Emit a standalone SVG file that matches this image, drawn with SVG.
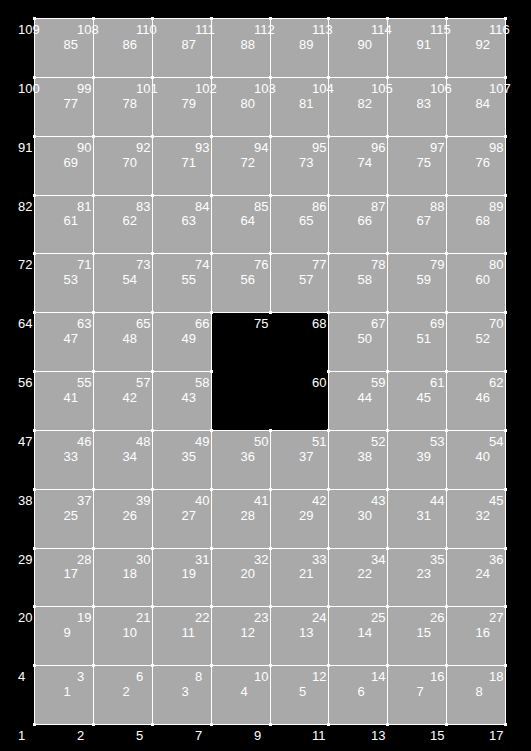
<svg xmlns="http://www.w3.org/2000/svg" xmlns:xlink="http://www.w3.org/1999/xlink" width="531" height="751" viewBox="0 0 531 751">
<style>
.e rect{fill:#a9a9a9}
text{fill:#fff;font-family:"Liberation Sans",Arial,sans-serif;font-size:13px}
.g{stroke:#fff;stroke-width:1;fill:none;shape-rendering:crispEdges}
.mk{fill:#fff;shape-rendering:crispEdges}
</style>
<defs><rect id="m" class="mk" width="3" height="3"/></defs>
<rect width="531" height="751" fill="#000"/>
<g id="elements" class="e">
<g id="e85"><rect x="34" y="18" width="60" height="60"/><text x="63.5" y="48.5">85</text></g>
<g id="e86"><rect x="93" y="18" width="60" height="60"/><text x="122.5" y="48.5">86</text></g>
<g id="e87"><rect x="152" y="18" width="60" height="60"/><text x="181.5" y="48.5">87</text></g>
<g id="e88"><rect x="211" y="18" width="60" height="60"/><text x="240.5" y="48.5">88</text></g>
<g id="e89"><rect x="270" y="18" width="59" height="60"/><text x="299" y="48.5">89</text></g>
<g id="e90"><rect x="328" y="18" width="60" height="60"/><text x="357.5" y="48.5">90</text></g>
<g id="e91"><rect x="387" y="18" width="60" height="60"/><text x="416.5" y="48.5">91</text></g>
<g id="e92"><rect x="446" y="18" width="60" height="60"/><text x="475.5" y="48.5">92</text></g>

<g id="e77"><rect x="34" y="77" width="60" height="60"/><text x="63.5" y="107.5">77</text></g>
<g id="e78"><rect x="93" y="77" width="60" height="60"/><text x="122.5" y="107.5">78</text></g>
<g id="e79"><rect x="152" y="77" width="60" height="60"/><text x="181.5" y="107.5">79</text></g>
<g id="e80"><rect x="211" y="77" width="60" height="60"/><text x="240.5" y="107.5">80</text></g>
<g id="e81"><rect x="270" y="77" width="59" height="60"/><text x="299" y="107.5">81</text></g>
<g id="e82"><rect x="328" y="77" width="60" height="60"/><text x="357.5" y="107.5">82</text></g>
<g id="e83"><rect x="387" y="77" width="60" height="60"/><text x="416.5" y="107.5">83</text></g>
<g id="e84"><rect x="446" y="77" width="60" height="60"/><text x="475.5" y="107.5">84</text></g>

<g id="e69"><rect x="34" y="136" width="60" height="60"/><text x="63.5" y="166.5">69</text></g>
<g id="e70"><rect x="93" y="136" width="60" height="60"/><text x="122.5" y="166.5">70</text></g>
<g id="e71"><rect x="152" y="136" width="60" height="60"/><text x="181.5" y="166.5">71</text></g>
<g id="e72"><rect x="211" y="136" width="60" height="60"/><text x="240.5" y="166.5">72</text></g>
<g id="e73"><rect x="270" y="136" width="59" height="60"/><text x="299" y="166.5">73</text></g>
<g id="e74"><rect x="328" y="136" width="60" height="60"/><text x="357.5" y="166.5">74</text></g>
<g id="e75"><rect x="387" y="136" width="60" height="60"/><text x="416.5" y="166.5">75</text></g>
<g id="e76"><rect x="446" y="136" width="60" height="60"/><text x="475.5" y="166.5">76</text></g>

<g id="e61"><rect x="34" y="195" width="60" height="59"/><text x="63.5" y="225">61</text></g>
<g id="e62"><rect x="93" y="195" width="60" height="59"/><text x="122.5" y="225">62</text></g>
<g id="e63"><rect x="152" y="195" width="60" height="59"/><text x="181.5" y="225">63</text></g>
<g id="e64"><rect x="211" y="195" width="60" height="59"/><text x="240.5" y="225">64</text></g>
<g id="e65"><rect x="270" y="195" width="59" height="59"/><text x="299" y="225">65</text></g>
<g id="e66"><rect x="328" y="195" width="60" height="59"/><text x="357.5" y="225">66</text></g>
<g id="e67"><rect x="387" y="195" width="60" height="59"/><text x="416.5" y="225">67</text></g>
<g id="e68"><rect x="446" y="195" width="60" height="59"/><text x="475.5" y="225">68</text></g>

<g id="e53"><rect x="34" y="253" width="60" height="60"/><text x="63.5" y="283.5">53</text></g>
<g id="e54"><rect x="93" y="253" width="60" height="60"/><text x="122.5" y="283.5">54</text></g>
<g id="e55"><rect x="152" y="253" width="60" height="60"/><text x="181.5" y="283.5">55</text></g>
<g id="e56"><rect x="211" y="253" width="60" height="60"/><text x="240.5" y="283.5">56</text></g>
<g id="e57"><rect x="270" y="253" width="59" height="60"/><text x="299" y="283.5">57</text></g>
<g id="e58"><rect x="328" y="253" width="60" height="60"/><text x="357.5" y="283.5">58</text></g>
<g id="e59"><rect x="387" y="253" width="60" height="60"/><text x="416.5" y="283.5">59</text></g>
<g id="e60"><rect x="446" y="253" width="60" height="60"/><text x="475.5" y="283.5">60</text></g>

<g id="e47"><rect x="34" y="312" width="60" height="60"/><text x="63.5" y="342.5">47</text></g>
<g id="e48"><rect x="93" y="312" width="60" height="60"/><text x="122.5" y="342.5">48</text></g>
<g id="e49"><rect x="152" y="312" width="60" height="60"/><text x="181.5" y="342.5">49</text></g>
<g id="e50"><rect x="328" y="312" width="60" height="60"/><text x="357.5" y="342.5">50</text></g>
<g id="e51"><rect x="387" y="312" width="60" height="60"/><text x="416.5" y="342.5">51</text></g>
<g id="e52"><rect x="446" y="312" width="60" height="60"/><text x="475.5" y="342.5">52</text></g>

<g id="e41"><rect x="34" y="371" width="60" height="60"/><text x="63.5" y="401.5">41</text></g>
<g id="e42"><rect x="93" y="371" width="60" height="60"/><text x="122.5" y="401.5">42</text></g>
<g id="e43"><rect x="152" y="371" width="60" height="60"/><text x="181.5" y="401.5">43</text></g>
<g id="e44"><rect x="328" y="371" width="60" height="60"/><text x="357.5" y="401.5">44</text></g>
<g id="e45"><rect x="387" y="371" width="60" height="60"/><text x="416.5" y="401.5">45</text></g>
<g id="e46"><rect x="446" y="371" width="60" height="60"/><text x="475.5" y="401.5">46</text></g>

<g id="e33"><rect x="34" y="430" width="60" height="60"/><text x="63.5" y="460.5">33</text></g>
<g id="e34"><rect x="93" y="430" width="60" height="60"/><text x="122.5" y="460.5">34</text></g>
<g id="e35"><rect x="152" y="430" width="60" height="60"/><text x="181.5" y="460.5">35</text></g>
<g id="e36"><rect x="211" y="430" width="60" height="60"/><text x="240.5" y="460.5">36</text></g>
<g id="e37"><rect x="270" y="430" width="59" height="60"/><text x="299" y="460.5">37</text></g>
<g id="e38"><rect x="328" y="430" width="60" height="60"/><text x="357.5" y="460.5">38</text></g>
<g id="e39"><rect x="387" y="430" width="60" height="60"/><text x="416.5" y="460.5">39</text></g>
<g id="e40"><rect x="446" y="430" width="60" height="60"/><text x="475.5" y="460.5">40</text></g>

<g id="e25"><rect x="34" y="489" width="60" height="60"/><text x="63.5" y="519.5">25</text></g>
<g id="e26"><rect x="93" y="489" width="60" height="60"/><text x="122.5" y="519.5">26</text></g>
<g id="e27"><rect x="152" y="489" width="60" height="60"/><text x="181.5" y="519.5">27</text></g>
<g id="e28"><rect x="211" y="489" width="60" height="60"/><text x="240.5" y="519.5">28</text></g>
<g id="e29"><rect x="270" y="489" width="59" height="60"/><text x="299" y="519.5">29</text></g>
<g id="e30"><rect x="328" y="489" width="60" height="60"/><text x="357.5" y="519.5">30</text></g>
<g id="e31"><rect x="387" y="489" width="60" height="60"/><text x="416.5" y="519.5">31</text></g>
<g id="e32"><rect x="446" y="489" width="60" height="60"/><text x="475.5" y="519.5">32</text></g>

<g id="e17"><rect x="34" y="548" width="60" height="59"/><text x="63.5" y="578">17</text></g>
<g id="e18"><rect x="93" y="548" width="60" height="59"/><text x="122.5" y="578">18</text></g>
<g id="e19"><rect x="152" y="548" width="60" height="59"/><text x="181.5" y="578">19</text></g>
<g id="e20"><rect x="211" y="548" width="60" height="59"/><text x="240.5" y="578">20</text></g>
<g id="e21"><rect x="270" y="548" width="59" height="59"/><text x="299" y="578">21</text></g>
<g id="e22"><rect x="328" y="548" width="60" height="59"/><text x="357.5" y="578">22</text></g>
<g id="e23"><rect x="387" y="548" width="60" height="59"/><text x="416.5" y="578">23</text></g>
<g id="e24"><rect x="446" y="548" width="60" height="59"/><text x="475.5" y="578">24</text></g>

<g id="e9"><rect x="34" y="606" width="60" height="60"/><text x="63.5" y="636.5">9</text></g>
<g id="e10"><rect x="93" y="606" width="60" height="60"/><text x="122.5" y="636.5">10</text></g>
<g id="e11"><rect x="152" y="606" width="60" height="60"/><text x="181.5" y="636.5">11</text></g>
<g id="e12"><rect x="211" y="606" width="60" height="60"/><text x="240.5" y="636.5">12</text></g>
<g id="e13"><rect x="270" y="606" width="59" height="60"/><text x="299" y="636.5">13</text></g>
<g id="e14"><rect x="328" y="606" width="60" height="60"/><text x="357.5" y="636.5">14</text></g>
<g id="e15"><rect x="387" y="606" width="60" height="60"/><text x="416.5" y="636.5">15</text></g>
<g id="e16"><rect x="446" y="606" width="60" height="60"/><text x="475.5" y="636.5">16</text></g>

<g id="e1"><rect x="34" y="665" width="60" height="60"/><text x="63.5" y="695.5">1</text></g>
<g id="e2"><rect x="93" y="665" width="60" height="60"/><text x="122.5" y="695.5">2</text></g>
<g id="e3"><rect x="152" y="665" width="60" height="60"/><text x="181.5" y="695.5">3</text></g>
<g id="e4"><rect x="211" y="665" width="60" height="60"/><text x="240.5" y="695.5">4</text></g>
<g id="e5"><rect x="270" y="665" width="59" height="60"/><text x="299" y="695.5">5</text></g>
<g id="e6"><rect x="328" y="665" width="60" height="60"/><text x="357.5" y="695.5">6</text></g>
<g id="e7"><rect x="387" y="665" width="60" height="60"/><text x="416.5" y="695.5">7</text></g>
<g id="e8"><rect x="446" y="665" width="60" height="60"/><text x="475.5" y="695.5">8</text></g>
</g>
<g id="nodes">
<g id="n109"><use href="#m" x="33" y="17"/><text x="18" y="34">109</text></g>
<g id="n108"><use href="#m" x="92" y="17"/><text x="77" y="34">108</text></g>
<g id="n110"><use href="#m" x="151" y="17"/><text x="136" y="34">110</text></g>
<g id="n111"><use href="#m" x="210" y="17"/><text x="195" y="34">111</text></g>
<g id="n112"><use href="#m" x="269" y="17"/><text x="254" y="34">112</text></g>
<g id="n113"><use href="#m" x="327" y="17"/><text x="312" y="34">113</text></g>
<g id="n114"><use href="#m" x="386" y="17"/><text x="371" y="34">114</text></g>
<g id="n115"><use href="#m" x="445" y="17"/><text x="430" y="34">115</text></g>
<g id="n116"><use href="#m" x="504" y="17"/><text x="489" y="34">116</text></g>

<g id="n100"><use href="#m" x="33" y="76"/><text x="18" y="93">100</text></g>
<g id="n99"><use href="#m" x="92" y="76"/><text x="77" y="93">99</text></g>
<g id="n101"><use href="#m" x="151" y="76"/><text x="136" y="93">101</text></g>
<g id="n102"><use href="#m" x="210" y="76"/><text x="195" y="93">102</text></g>
<g id="n103"><use href="#m" x="269" y="76"/><text x="254" y="93">103</text></g>
<g id="n104"><use href="#m" x="327" y="76"/><text x="312" y="93">104</text></g>
<g id="n105"><use href="#m" x="386" y="76"/><text x="371" y="93">105</text></g>
<g id="n106"><use href="#m" x="445" y="76"/><text x="430" y="93">106</text></g>
<g id="n107"><use href="#m" x="504" y="76"/><text x="489" y="93">107</text></g>

<g id="n91"><use href="#m" x="33" y="135"/><text x="18" y="152">91</text></g>
<g id="n90"><use href="#m" x="92" y="135"/><text x="77" y="152">90</text></g>
<g id="n92"><use href="#m" x="151" y="135"/><text x="136" y="152">92</text></g>
<g id="n93"><use href="#m" x="210" y="135"/><text x="195" y="152">93</text></g>
<g id="n94"><use href="#m" x="269" y="135"/><text x="254" y="152">94</text></g>
<g id="n95"><use href="#m" x="327" y="135"/><text x="312" y="152">95</text></g>
<g id="n96"><use href="#m" x="386" y="135"/><text x="371" y="152">96</text></g>
<g id="n97"><use href="#m" x="445" y="135"/><text x="430" y="152">97</text></g>
<g id="n98"><use href="#m" x="504" y="135"/><text x="489" y="152">98</text></g>

<g id="n82"><use href="#m" x="33" y="194"/><text x="18" y="211">82</text></g>
<g id="n81"><use href="#m" x="92" y="194"/><text x="77" y="211">81</text></g>
<g id="n83"><use href="#m" x="151" y="194"/><text x="136" y="211">83</text></g>
<g id="n84"><use href="#m" x="210" y="194"/><text x="195" y="211">84</text></g>
<g id="n85"><use href="#m" x="269" y="194"/><text x="254" y="211">85</text></g>
<g id="n86"><use href="#m" x="327" y="194"/><text x="312" y="211">86</text></g>
<g id="n87"><use href="#m" x="386" y="194"/><text x="371" y="211">87</text></g>
<g id="n88"><use href="#m" x="445" y="194"/><text x="430" y="211">88</text></g>
<g id="n89"><use href="#m" x="504" y="194"/><text x="489" y="211">89</text></g>

<g id="n72"><use href="#m" x="33" y="252"/><text x="18" y="269">72</text></g>
<g id="n71"><use href="#m" x="92" y="252"/><text x="77" y="269">71</text></g>
<g id="n73"><use href="#m" x="151" y="252"/><text x="136" y="269">73</text></g>
<g id="n74"><use href="#m" x="210" y="252"/><text x="195" y="269">74</text></g>
<g id="n76"><use href="#m" x="269" y="252"/><text x="254" y="269">76</text></g>
<g id="n77"><use href="#m" x="327" y="252"/><text x="312" y="269">77</text></g>
<g id="n78"><use href="#m" x="386" y="252"/><text x="371" y="269">78</text></g>
<g id="n79"><use href="#m" x="445" y="252"/><text x="430" y="269">79</text></g>
<g id="n80"><use href="#m" x="504" y="252"/><text x="489" y="269">80</text></g>

<g id="n64"><use href="#m" x="33" y="311"/><text x="18" y="328">64</text></g>
<g id="n63"><use href="#m" x="92" y="311"/><text x="77" y="328">63</text></g>
<g id="n65"><use href="#m" x="151" y="311"/><text x="136" y="328">65</text></g>
<g id="n66"><use href="#m" x="210" y="311"/><text x="195" y="328">66</text></g>
<g id="n75"><use href="#m" x="269" y="311"/><text x="254" y="328">75</text></g>
<g id="n68"><use href="#m" x="327" y="311"/><text x="312" y="328">68</text></g>
<g id="n67"><use href="#m" x="386" y="311"/><text x="371" y="328">67</text></g>
<g id="n69"><use href="#m" x="445" y="311"/><text x="430" y="328">69</text></g>
<g id="n70"><use href="#m" x="504" y="311"/><text x="489" y="328">70</text></g>

<g id="n56"><use href="#m" x="33" y="370"/><text x="18" y="387">56</text></g>
<g id="n55"><use href="#m" x="92" y="370"/><text x="77" y="387">55</text></g>
<g id="n57"><use href="#m" x="151" y="370"/><text x="136" y="387">57</text></g>
<g id="n58"><use href="#m" x="210" y="370"/><text x="195" y="387">58</text></g>
<g id="n60"><use href="#m" x="327" y="370"/><text x="312" y="387">60</text></g>
<g id="n59"><use href="#m" x="386" y="370"/><text x="371" y="387">59</text></g>
<g id="n61"><use href="#m" x="445" y="370"/><text x="430" y="387">61</text></g>
<g id="n62"><use href="#m" x="504" y="370"/><text x="489" y="387">62</text></g>

<g id="n47"><use href="#m" x="33" y="429"/><text x="18" y="446">47</text></g>
<g id="n46"><use href="#m" x="92" y="429"/><text x="77" y="446">46</text></g>
<g id="n48"><use href="#m" x="151" y="429"/><text x="136" y="446">48</text></g>
<g id="n49"><use href="#m" x="210" y="429"/><text x="195" y="446">49</text></g>
<g id="n50"><use href="#m" x="269" y="429"/><text x="254" y="446">50</text></g>
<g id="n51"><use href="#m" x="327" y="429"/><text x="312" y="446">51</text></g>
<g id="n52"><use href="#m" x="386" y="429"/><text x="371" y="446">52</text></g>
<g id="n53"><use href="#m" x="445" y="429"/><text x="430" y="446">53</text></g>
<g id="n54"><use href="#m" x="504" y="429"/><text x="489" y="446">54</text></g>

<g id="n38"><use href="#m" x="33" y="488"/><text x="18" y="505">38</text></g>
<g id="n37"><use href="#m" x="92" y="488"/><text x="77" y="505">37</text></g>
<g id="n39"><use href="#m" x="151" y="488"/><text x="136" y="505">39</text></g>
<g id="n40"><use href="#m" x="210" y="488"/><text x="195" y="505">40</text></g>
<g id="n41"><use href="#m" x="269" y="488"/><text x="254" y="505">41</text></g>
<g id="n42"><use href="#m" x="327" y="488"/><text x="312" y="505">42</text></g>
<g id="n43"><use href="#m" x="386" y="488"/><text x="371" y="505">43</text></g>
<g id="n44"><use href="#m" x="445" y="488"/><text x="430" y="505">44</text></g>
<g id="n45"><use href="#m" x="504" y="488"/><text x="489" y="505">45</text></g>

<g id="n29"><use href="#m" x="33" y="547"/><text x="18" y="564">29</text></g>
<g id="n28"><use href="#m" x="92" y="547"/><text x="77" y="564">28</text></g>
<g id="n30"><use href="#m" x="151" y="547"/><text x="136" y="564">30</text></g>
<g id="n31"><use href="#m" x="210" y="547"/><text x="195" y="564">31</text></g>
<g id="n32"><use href="#m" x="269" y="547"/><text x="254" y="564">32</text></g>
<g id="n33"><use href="#m" x="327" y="547"/><text x="312" y="564">33</text></g>
<g id="n34"><use href="#m" x="386" y="547"/><text x="371" y="564">34</text></g>
<g id="n35"><use href="#m" x="445" y="547"/><text x="430" y="564">35</text></g>
<g id="n36"><use href="#m" x="504" y="547"/><text x="489" y="564">36</text></g>

<g id="n20"><use href="#m" x="33" y="605"/><text x="18" y="622">20</text></g>
<g id="n19"><use href="#m" x="92" y="605"/><text x="77" y="622">19</text></g>
<g id="n21"><use href="#m" x="151" y="605"/><text x="136" y="622">21</text></g>
<g id="n22"><use href="#m" x="210" y="605"/><text x="195" y="622">22</text></g>
<g id="n23"><use href="#m" x="269" y="605"/><text x="254" y="622">23</text></g>
<g id="n24"><use href="#m" x="327" y="605"/><text x="312" y="622">24</text></g>
<g id="n25"><use href="#m" x="386" y="605"/><text x="371" y="622">25</text></g>
<g id="n26"><use href="#m" x="445" y="605"/><text x="430" y="622">26</text></g>
<g id="n27"><use href="#m" x="504" y="605"/><text x="489" y="622">27</text></g>

<g id="n4"><use href="#m" x="33" y="664"/><text x="18" y="681">4</text></g>
<g id="n3"><use href="#m" x="92" y="664"/><text x="77" y="681">3</text></g>
<g id="n6"><use href="#m" x="151" y="664"/><text x="136" y="681">6</text></g>
<g id="n8"><use href="#m" x="210" y="664"/><text x="195" y="681">8</text></g>
<g id="n10"><use href="#m" x="269" y="664"/><text x="254" y="681">10</text></g>
<g id="n12"><use href="#m" x="327" y="664"/><text x="312" y="681">12</text></g>
<g id="n14"><use href="#m" x="386" y="664"/><text x="371" y="681">14</text></g>
<g id="n16"><use href="#m" x="445" y="664"/><text x="430" y="681">16</text></g>
<g id="n18"><use href="#m" x="504" y="664"/><text x="489" y="681">18</text></g>

<g id="n1"><use href="#m" x="33" y="723"/><text x="18" y="740">1</text></g>
<g id="n2"><use href="#m" x="92" y="723"/><text x="77" y="740">2</text></g>
<g id="n5"><use href="#m" x="151" y="723"/><text x="136" y="740">5</text></g>
<g id="n7"><use href="#m" x="210" y="723"/><text x="195" y="740">7</text></g>
<g id="n9"><use href="#m" x="269" y="723"/><text x="254" y="740">9</text></g>
<g id="n11"><use href="#m" x="327" y="723"/><text x="312" y="740">11</text></g>
<g id="n13"><use href="#m" x="386" y="723"/><text x="371" y="740">13</text></g>
<g id="n15"><use href="#m" x="445" y="723"/><text x="430" y="740">15</text></g>
<g id="n17"><use href="#m" x="504" y="723"/><text x="489" y="740">17</text></g>
</g>
<g id="connectors" class="g">
<path d="M34.5 18.5H505.5M34.5 77.5H505.5M34.5 136.5H505.5M34.5 195.5H505.5M34.5 253.5H505.5M34.5 312.5H505.5M34.5 371.5H211.5M328.5 371.5H505.5M34.5 430.5H505.5M34.5 489.5H505.5M34.5 548.5H505.5M34.5 606.5H505.5M34.5 665.5H505.5M34.5 724.5H505.5"/>
<path d="M34.5 18.5V724.5M93.5 18.5V724.5M152.5 18.5V724.5M211.5 18.5V724.5M270.5 18.5V312.5M270.5 430.5V724.5M328.5 18.5V724.5M387.5 18.5V724.5M446.5 18.5V724.5M505.5 18.5V724.5"/>
</g>
</svg>
